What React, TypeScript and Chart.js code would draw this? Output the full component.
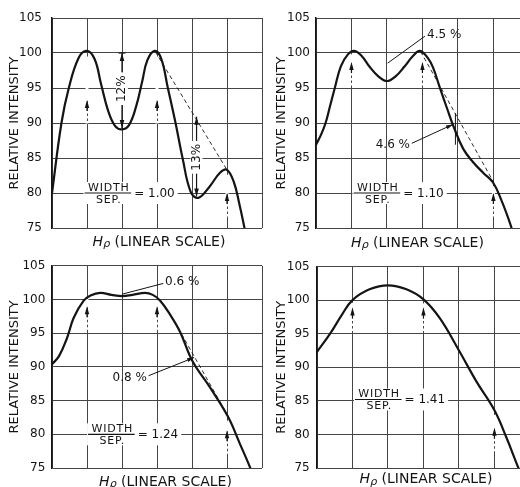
import React, { useEffect, useRef } from "react";
import { Chart, registerables } from "chart.js";

Chart.register(...registerables);

const FONT = '"DejaVu Sans", "Liberation Sans", Arial, sans-serif';
const INK = "#141414";
const GRID = "#454545";

// ---- axes ----
const yMin = 75;
const yMax = 105;
const yStep = 5;
const xGridLines = [0, 1, 2, 3, 4, 5, 6];

const yAxisTitle = "RELATIVE INTENSITY";
const xTitleH = "H";
const xTitleRho = "ρ";
const xTitleRest = "(LINEAR SCALE)";
const fracTop = "WIDTH";
const fracBottom = "SEP.";

// ---- data (x in grid units, y = relative intensity) ----
// WIDTH/SEP = 1.00
const p1X = [0, 0.27, 0.48, 0.76, 1.0, 1.22, 1.4, 1.6, 1.8, 2.0, 2.2, 2.4, 2.58, 2.72, 2.93, 3.12, 3.31, 3.53, 3.73, 3.96, 4.18, 4.5, 4.8, 5.0, 5.2, 5.35, 5.5, 5.6];
const p1Y = [80, 90, 95, 99.3, 100.3, 99.1, 95.6, 91.8, 89.6, 89.1, 89.7, 92.3, 96.0, 98.9, 100.3, 99.2, 95, 90, 85, 80.2, 79.3, 80.9, 82.9, 83.3, 81.5, 78.5, 75, 72.5];

// WIDTH/SEP = 1.10
const p2X = [0, 0.14, 0.27, 0.4, 0.53, 0.7, 0.9, 1.08, 1.3, 1.5, 1.75, 2.0, 2.25, 2.5, 2.72, 2.93, 3.15, 3.3, 3.5, 3.7, 3.87, 4.15, 4.43, 4.71, 4.99, 5.23, 5.46, 5.6];
const p2Y = [86.9, 88.3, 90.0, 92.5, 95, 98.1, 99.8, 100.3, 99.5, 98.1, 96.7, 96.0, 96.7, 98.1, 99.5, 100.3, 99.3, 97.9, 94.9, 92.0, 89.6, 86.3, 84.4, 82.9, 81.5, 78.9, 75.8, 73.5];

// WIDTH/SEP = 1.24
const p3X = [0, 0.2, 0.43, 0.62, 0.9, 1.1, 1.38, 1.7, 2.0, 2.3, 2.66, 2.88, 3.08, 3.37, 3.66, 4.02, 4.51, 5.03, 5.36, 5.65, 5.8];
const p3Y = [90.4, 91.6, 94.3, 97.3, 99.8, 100.6, 101.0, 100.7, 100.5, 100.7, 101.0, 100.7, 99.9, 97.8, 95.2, 90.8, 87.0, 82.6, 78.7, 75.2, 73];

// WIDTH/SEP = 1.41
const p4X = [0, 0.37, 0.7, 1.0, 1.48, 2.0, 2.52, 3.0, 3.46, 4.0, 4.49, 5.0, 5.34, 5.66, 5.8];
const p4Y = [92.3, 95, 97.8, 100, 101.6, 102.2, 101.6, 100.1, 97.3, 92.5, 87.9, 83.6, 79.5, 75.2, 73.5];

const ratioValues = ["1.00", "1.10", "1.24", "1.41"];

// ---- annotation marks (data coordinates) ----
const p1Marks: any[] = [
  { kind: "arrow", x: 1, tip: 93.3, gapTo: 99.5 },
  { kind: "arrow", x: 3, tip: 93.3, gapTo: 99.5 },
  { kind: "arrow", x: 5, tip: 80.0, gapTo: 82.6 },
  { kind: "dash", x0: 2.95, y0: 100.2, x1: 5.0, y1: 83.3 },
  { kind: "dim", x: 2, top: 100, bottom: 89.3, textY: 94.9, text: "12%", bar: true },
  { kind: "dim", x: 4.13, top: 90.9, bottom: 79.5, textY: 85.1, text: "13%", bar: false },
  { kind: "frac", x: 1.61, y: 80 },
];
const p2Marks: any[] = [
  { kind: "arrow", x: 1, tip: 98.7, gapTo: 99.8 },
  { kind: "arrow", x: 3, tip: 98.7, gapTo: 99.8 },
  { kind: "arrow", x: 5, tip: 80.0, gapTo: 81.0 },
  { kind: "dash", x0: 2.95, y0: 100.2, x1: 5.0, y1: 81.6 },
  { kind: "leader", x0: 2.02, y0: 98.55, x1: 3.07, y1: 102.4, head: false },
  { kind: "text", x: 3.13, y: 102.6, text: "4.5 %", align: "left" },
  { kind: "leader", x0: 2.7, y0: 87.1, x1: 3.86, y1: 89.8, head: true },
  { kind: "text", x: 2.65, y: 86.9, text: "4.6 %", align: "right" },
  { kind: "vline", x: 3.93, y0: 91.4, y1: 86.9 },
  { kind: "frac", x: 1.73, y: 80 },
];
const p3Marks: any[] = [
  { kind: "arrow", x: 1, tip: 99.0, gapTo: 100.1 },
  { kind: "arrow", x: 3, tip: 99.0, gapTo: 99.9 },
  { kind: "arrow", x: 5, tip: 80.6, gapTo: 82.0 },
  { kind: "dash", x0: 3.6, y0: 95.8, x1: 5.0, y1: 83.0 },
  { kind: "leader", x0: 2.0, y0: 100.8, x1: 3.18, y1: 102.4, head: false },
  { kind: "text", x: 3.23, y: 102.65, text: "0.6 %", align: "left" },
  { kind: "leader", x0: 2.76, y0: 88.7, x1: 4.06, y1: 91.4, head: true },
  { kind: "text", x: 2.71, y: 88.45, text: "0.8 %", align: "right" },
  { kind: "frac", x: 1.71, y: 80 },
];
const p4Marks: any[] = [
  { kind: "arrow", x: 1, tip: 98.9, gapTo: 99.6 },
  { kind: "arrow", x: 3, tip: 98.9, gapTo: 99.5 },
  { kind: "arrow", x: 5, tip: 81.0, gapTo: 82.9 },
  { kind: "frac", x: 1.74, y: 85.2 },
];

// ---- panel layout ----
const panels = [
  { xs: p1X, ys: p1Y, marks: p1Marks, ratio: ratioValues[0], box: { left: 0, top: 0, width: 264, height: 252 }, axisW: 52, tickPad: 10, titlePad: 7.2, padTop: 18, padRight: 2, padBottom: 24, xMax: 6, xLabel: { cx: 159, cy: 240.5 } },
  { xs: p2X, ys: p2Y, marks: p2Marks, ratio: ratioValues[1], box: { left: 264, top: 0, width: 256, height: 252 }, axisW: 52, tickPad: 6, titlePad: 9.9, padTop: 18, padRight: 0, padBottom: 24, xMax: 5.75, xLabel: { cx: 153.5, cy: 241.5 } },
  { xs: p3X, ys: p3Y, marks: p3Marks, ratio: ratioValues[2], box: { left: 0, top: 252, width: 264, height: 235 }, axisW: 52, tickPad: 6.7, titlePad: 7.2, padTop: 12, padRight: 2, padBottom: 19, xMax: 6, xLabel: { cx: 165.5, cy: 228.5 } },
  { xs: p4X, ys: p4Y, marks: p4Marks, ratio: ratioValues[3], box: { left: 264, top: 252, width: 256, height: 235 }, axisW: 53, tickPad: 7.3, titlePad: 9.9, padTop: 11, padRight: 0, padBottom: 19, xMax: 5.72, xLabel: { cx: 162, cy: 226 } },
];

function setSpacing(ctx: any, v: string) {
  if ("letterSpacing" in ctx) ctx.letterSpacing = v;
}

function line(ctx: CanvasRenderingContext2D, x0: number, y0: number, x1: number, y1: number) {
  ctx.beginPath();
  ctx.moveTo(x0, y0);
  ctx.lineTo(x1, y1);
  ctx.stroke();
}

function head(ctx: CanvasRenderingContext2D, x: number, y: number, ang: number, len = 8, half = 2.3) {
  const bx = x - Math.cos(ang) * len;
  const by = y - Math.sin(ang) * len;
  const nx = -Math.sin(ang) * half;
  const ny = Math.cos(ang) * half;
  ctx.beginPath();
  ctx.moveTo(x, y);
  ctx.lineTo(bx + nx, by + ny);
  ctx.lineTo(bx - nx, by - ny);
  ctx.closePath();
  ctx.fill();
}

function overlay(spec: any) {
  return {
    id: "overlay",
    beforeDatasetsDraw(chart: any) {
      const ctx: CanvasRenderingContext2D = chart.ctx;
      const X = (v: number) => chart.scales.x.getPixelForValue(v);
      const Y = (v: number) => chart.scales.y.getPixelForValue(v);
      ctx.save();
      for (const m of spec.marks) {
        ctx.setLineDash([]);
        if (m.kind === "arrow") {
          const x = X(m.x), tip = Y(m.tip), gap = Y(m.gapTo);
          ctx.strokeStyle = "#fff";
          ctx.lineWidth = 3;
          line(ctx, x, tip + 1, x, gap);
          ctx.setLineDash([2.5, 2.5]);
          line(ctx, x, tip + 11, x, tip + 26);
          ctx.setLineDash([]);
          ctx.fillStyle = INK;
          head(ctx, x, tip, -Math.PI / 2, 8, 2.2);
          ctx.strokeStyle = INK;
          ctx.lineWidth = 1.2;
          line(ctx, x, tip + 6, x, tip + 11);
        } else if (m.kind === "dash") {
          ctx.strokeStyle = INK;
          ctx.lineWidth = 0.9;
          ctx.setLineDash([4, 3]);
          line(ctx, X(m.x0), Y(m.y0), X(m.x1), Y(m.y1));
          ctx.setLineDash([]);
        } else if (m.kind === "leader") {
          ctx.strokeStyle = INK;
          ctx.lineWidth = 1;
          const x0 = X(m.x0), y0 = Y(m.y0), x1 = X(m.x1), y1 = Y(m.y1);
          line(ctx, x0, y0, x1, y1);
          if (m.head) {
            ctx.fillStyle = INK;
            head(ctx, x1, y1, Math.atan2(y1 - y0, x1 - x0), 7, 2);
          }
        } else if (m.kind === "vline") {
          ctx.strokeStyle = INK;
          ctx.lineWidth = 1;
          line(ctx, X(m.x), Y(m.y0), X(m.x), Y(m.y1));
        } else if (m.kind === "text") {
          ctx.font = `12px ${FONT}`;
          ctx.fillStyle = INK;
          ctx.textAlign = m.align;
          ctx.textBaseline = "middle";
          ctx.fillText(m.text, X(m.x), Y(m.y));
        } else if (m.kind === "dim") {
          const x = X(m.x), yt = Y(m.top), yb = Y(m.bottom), ym = Y(m.textY);
          ctx.font = `12px ${FONT}`;
          const tw = ctx.measureText(m.text).width;
          ctx.fillStyle = "#fff";
          ctx.fillRect(x - 6, ym - tw / 2 - 3, 12, tw + 6);
          ctx.strokeStyle = INK;
          ctx.lineWidth = 1.2;
          line(ctx, x, yt, x, ym - tw / 2 - 3);
          line(ctx, x, ym + tw / 2 + 3, x, yb);
          ctx.fillStyle = INK;
          head(ctx, x, yt, -Math.PI / 2, 8, 2.3);
          head(ctx, x, yb, Math.PI / 2, 8, 2.3);
          if (m.bar) line(ctx, x - 3.5, yt, x + 3.5, yt);
          ctx.save();
          ctx.translate(x, ym);
          ctx.rotate(-Math.PI / 2);
          ctx.textAlign = "center";
          ctx.textBaseline = "middle";
          ctx.fillText(m.text, 0, 0);
          ctx.restore();
        } else if (m.kind === "frac") {
          const cx = X(m.x), cy = Y(m.y);
          ctx.font = `11px ${FONT}`;
          setSpacing(ctx, "0.8px");
          const w = ctx.measureText(fracTop).width;
          setSpacing(ctx, "0px");
          ctx.font = `12px ${FONT}`;
          const eq = "= " + spec.ratio;
          const ew = ctx.measureText(eq).width;
          const left = cx - w / 2 - 3;
          const eqX = cx + w / 2 + 5;
          ctx.fillStyle = "#fff";
          ctx.fillRect(left - 1, cy - 11, eqX + ew + 4 - left, 22);
          ctx.fillStyle = INK;
          ctx.font = `11px ${FONT}`;
          ctx.textAlign = "center";
          setSpacing(ctx, "0.8px");
          ctx.textBaseline = "alphabetic";
          ctx.fillText(fracTop, cx + 0.4, cy - 2);
          ctx.fillText(fracBottom, cx + 0.4, cy + 9.5);
          setSpacing(ctx, "0px");
          ctx.strokeStyle = INK;
          ctx.lineWidth = 1.2;
          line(ctx, left, cy, cx + w / 2 + 2, cy);
          ctx.font = `12px ${FONT}`;
          ctx.textAlign = "left";
          ctx.textBaseline = "middle";
          ctx.fillText(eq, eqX, cy + 0.5);
        }
      }
      ctx.restore();
    },
    afterDraw(chart: any) {
      const ctx: CanvasRenderingContext2D = chart.ctx;
      const { cx, cy } = spec.xLabel;
      ctx.save();
      ctx.fillStyle = INK;
      ctx.textBaseline = "alphabetic";
      ctx.textAlign = "left";
      ctx.font = `italic 14px ${FONT}`;
      const wH = ctx.measureText(xTitleH).width;
      ctx.font = `italic 11px ${FONT}`;
      const wR = ctx.measureText(xTitleRho).width;
      ctx.font = `14px ${FONT}`;
      const rest = " " + xTitleRest;
      const wRest = ctx.measureText(rest).width;
      const total = wH + wR + wRest;
      let x = cx - total / 2;
      const base = cy + 5;
      ctx.font = `italic 14px ${FONT}`;
      ctx.fillText(xTitleH, x, base);
      x += wH;
      ctx.font = `italic 11px ${FONT}`;
      ctx.fillText(xTitleRho, x, base + 1.5);
      x += wR;
      ctx.font = `14px ${FONT}`;
      ctx.fillText(rest, x, base);
      ctx.restore();
    },
  };
}

function buildConfig(spec: any): any {
  return {
    type: "line",
    data: {
      datasets: [
        {
          data: spec.xs.map((x: number, i: number) => ({ x, y: spec.ys[i] })),
          borderColor: INK,
          borderWidth: 2.2,
          pointRadius: 0,
          fill: false,
          tension: 0.4,
          borderCapStyle: "round",
          borderJoinStyle: "round",
        },
      ],
    },
    options: {
      animation: false,
      responsive: false,
      maintainAspectRatio: false,
      devicePixelRatio: 1,
      events: [],
      layout: { padding: { left: 0, top: spec.padTop, right: spec.padRight, bottom: spec.padBottom } },
      plugins: { legend: { display: false }, tooltip: { enabled: false }, title: { display: false } },
      scales: {
        x: {
          type: "linear",
          min: 0,
          max: spec.xMax,
          ticks: { display: false, stepSize: 1 },
          grid: { color: GRID, lineWidth: 1, drawTicks: false },
          border: { display: false },
          afterBuildTicks: (s: any) => {
            s.ticks = xGridLines.filter((v) => v <= s.max + 1e-6).map((v) => ({ value: v }));
          },
          afterFit: (s: any) => {
            s.height = 0;
          },
        },
        y: {
          type: "linear",
          min: yMin,
          max: yMax,
          ticks: { stepSize: yStep, padding: spec.tickPad, color: INK, font: { family: FONT, size: 12 } },
          grid: { color: GRID, lineWidth: 1, drawTicks: false },
          border: { color: INK, width: 1.5 },
          title: {
            display: true,
            text: yAxisTitle,
            color: INK,
            font: { family: FONT, size: 13 },
            padding: { top: spec.titlePad, bottom: 0 },
          },
          afterFit: (s: any) => {
            s.width = spec.axisW;
          },
        },
      },
    },
    plugins: [overlay(spec)],
  };
}

function Panel({ spec }: { spec: any }) {
  const ref = useRef<HTMLCanvasElement>(null);
  useEffect(() => {
    const chart = new Chart(ref.current as HTMLCanvasElement, buildConfig(spec));
    return () => chart.destroy();
  }, [spec]);
  return (
    <canvas
      ref={ref}
      width={spec.box.width}
      height={spec.box.height}
      style={{ position: "absolute", left: spec.box.left, top: spec.box.top, width: spec.box.width, height: spec.box.height }}
    />
  );
}

export default function App() {
  return (
    <div style={{ position: "absolute", left: 0, top: 0, width: 520, height: 487, background: "#fff", overflow: "hidden" }}>
      {panels.map((p, i) => (
        <Panel key={i} spec={p} />
      ))}
    </div>
  );
}
